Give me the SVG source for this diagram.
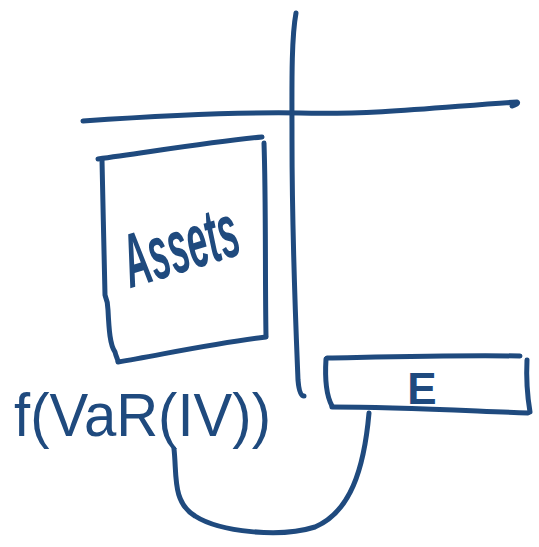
<svg xmlns="http://www.w3.org/2000/svg" width="539" height="547" viewBox="0 0 539 547">
<style>
.s{fill:none;stroke:#1f4a7e;stroke-width:5;stroke-linecap:round;stroke-linejoin:round}
.t{fill:#1f4a7e;font-family:"Liberation Sans",Arial,sans-serif}
</style>
<rect width="539" height="547" fill="#fff"/>
<g id="axes">
<path class="s" d="M296,13 C291,40 292,90 292,140 C292,240 296,330 298,380 C299,392 301,396 304,396"/>
<path class="s" d="M83,121 C170,115 240,112 300,113 C380,115 450,106 517,102 C519,103 516,105 512,106"/>
</g>
<g id="assets">
<path class="s" d="M98,159 C150,152 210,142 262,137"/>
<path class="s" d="M264,143 C266,200 265,280 266,336"/>
<path class="s" d="M118,362 C160,355 215,343 266,337"/>
<path class="s" d="M102,160 C103,200 104,260 105,295 C107,300 108,305 108,310 C109,330 110,345 115,352 C116,356 117,358 118,361"/>
<text class="t" transform="translate(131,288) rotate(-17) scale(1,1.9)" font-size="40" font-style="italic" font-weight="bold" textLength="118" lengthAdjust="spacingAndGlyphs">Assets</text>
</g>
<g id="e">
<path class="s" d="M327,358 C380,357 450,355 520,356"/>
<path class="s" d="M527,360 C526,380 528,400 530,412"/>
<path class="s" d="M332,407 C400,407 470,411 528,413"/>
<path class="s" d="M326,359 C325,375 326,395 332,406"/>
<text class="t" x="422" y="404" font-size="44" font-weight="bold" text-anchor="middle">E</text>
</g>
<g id="label">
<text class="t" x="14" y="436" font-size="62" textLength="257" lengthAdjust="spacingAndGlyphs">f(VaR(IV))</text>
</g>
<g id="connectors">
<path class="s" d="M174,449 C177,475 172,502 195,516 C220,532 280,538 315,527 C350,512 364,470 369,413"/>
</g>
</svg>
